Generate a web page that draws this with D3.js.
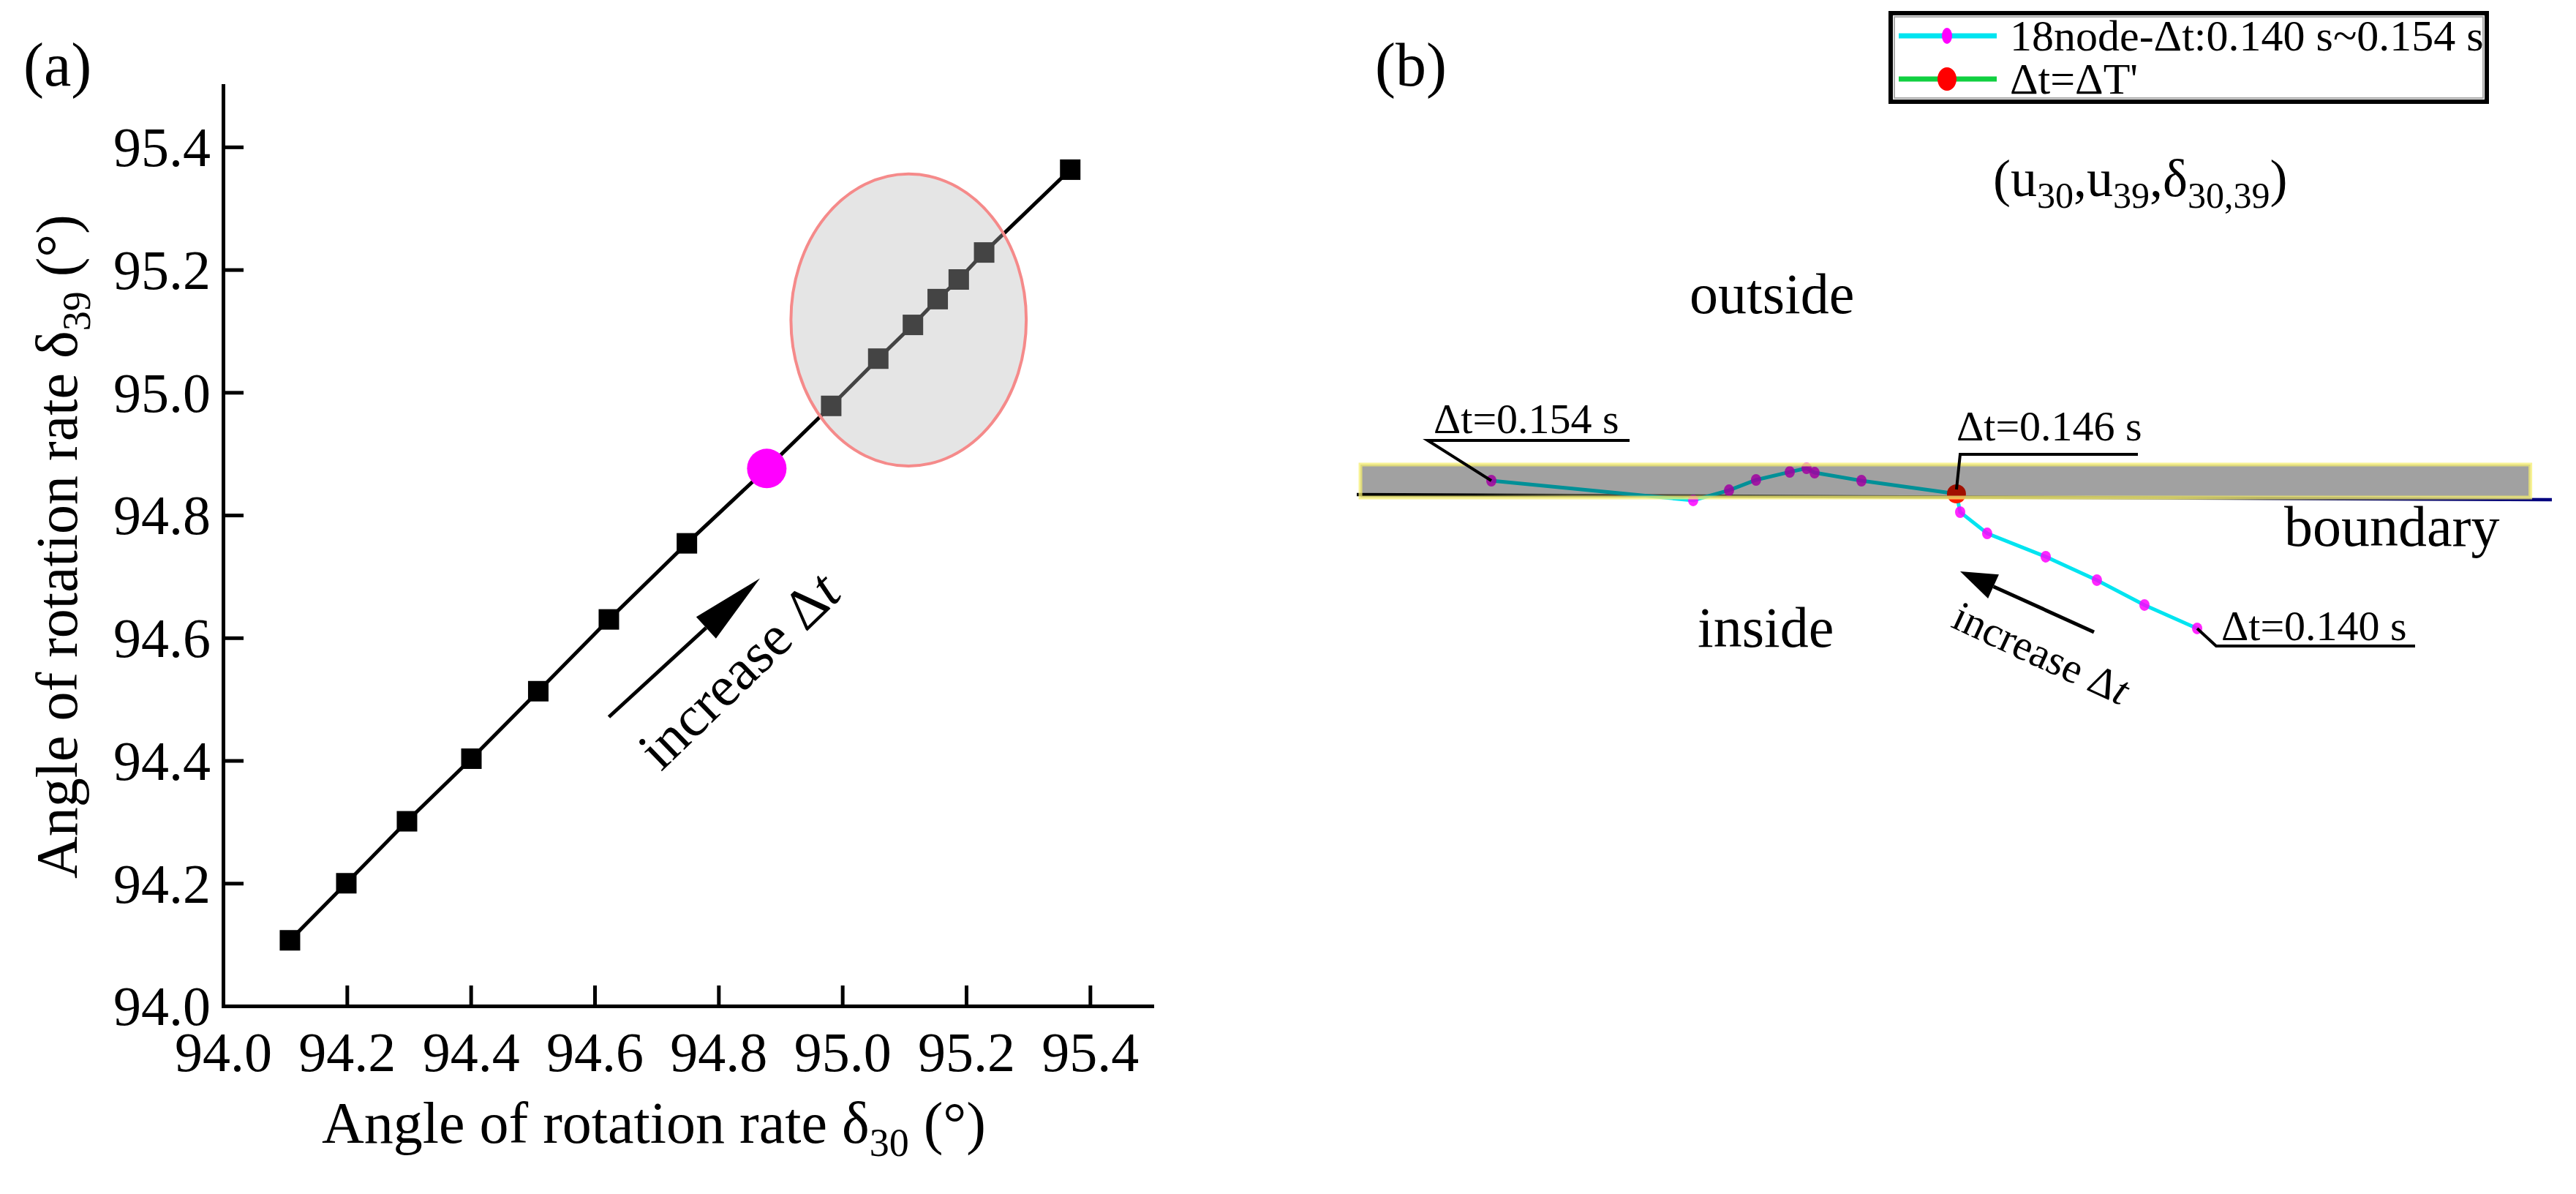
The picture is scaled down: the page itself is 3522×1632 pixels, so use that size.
<!DOCTYPE html>
<html><head><meta charset="utf-8">
<script src="https://cdn.jsdelivr.net/npm/d3@7"></script>
<style>
html,body{margin:0;padding:0;background:#fff;}
svg text{font-family:"Liberation Serif","Times New Roman",serif;fill:#000;}
</style></head><body>
<svg id="chart" width="3522" height="1632"></svg>
<script>
// ---------- Panel (a) data ----------
const delta30 = [94.108, 94.199, 94.297, 94.401, 94.509, 94.623, 94.749, 94.982, 95.058, 95.114, 95.154, 95.188, 95.229, 95.368];
const delta39 = [94.107, 94.200, 94.301, 94.403, 94.513, 94.630, 94.754, 94.978, 95.055, 95.110, 95.152, 95.184, 95.228, 95.363];
const criticalDelta30 = 94.878;
const criticalDelta39 = 94.876;
const axisTicks = [94.0, 94.2, 94.4, 94.6, 94.8, 95.0, 95.2, 95.4];
const axisTickLabels = ["94.0", "94.2", "94.4", "94.6", "94.8", "95.0", "95.2", "95.4"];
const clusterCenter = [95.107, 95.118];
const clusterRadius = [0.190, 0.238];

// ---------- Panel (b) data (projected plane, boundary = v 0) ----------
const dtValues = [0.140, 0.141, 0.142, 0.143, 0.144, 0.145, 0.146, 0.147, 0.148, 0.149, 0.150, 0.151, 0.152, 0.153, 0.154];
const nodeU = [70.32, 65.91, 61.93, 57.65, 52.75, 50.49, 50.18, 42.23, 38.31, 37.64, 36.23, 33.41, 31.15, 28.15, 11.26];
const nodeV = [-10.83, -8.87, -6.79, -4.83, -2.88, -1.10, 0.43, 1.53, 2.20, 2.57, 2.26, 1.59, 0.73, -0.12, 1.53];
const criticalDt = 0.146;
const bandU = [0.31, 98.2];
const bandV = [0.12, 2.88];
const boundaryU = [0, 100];
const boundaryV = [0.37, -0.06];
const legendLabels = ["18node-\u0394t:0.140 s~0.154 s", "\u0394t=\u0394T'"];

const svg = d3.select("#chart");
const FONT = '"Liberation Serif","Times New Roman",serif';

// ================= Panel (a) =================
const x = d3.scaleLinear().domain([94, 95.5]).range([305, 1575]);
const y = d3.scaleLinear().domain([94, 95.5]).range([1375, 117]);

const gx = svg.append("g").attr("transform", "translate(0,1375)")
  .call(d3.axisBottom(x).tickValues(axisTicks).tickFormat((d, i) => axisTickLabels[i])
    .tickSizeInner(-28).tickSizeOuter(0).tickPadding(35));
const gy = svg.append("g").attr("transform", "translate(305,0)")
  .call(d3.axisLeft(y).tickValues(axisTicks).tickFormat((d, i) => axisTickLabels[i])
    .tickSizeInner(-28).tickSizeOuter(0).tickPadding(17));
[gx, gy].forEach(g => {
  g.attr("font-family", FONT).attr("font-size", 76);
  g.selectAll("path.domain").attr("stroke", "#000").attr("stroke-width", 5).attr("stroke-linecap", "square");
  g.selectAll(".tick line").attr("stroke", "#000").attr("stroke-width", 5);
  g.selectAll("text").attr("fill", "#000");
});
gy.selectAll("text").attr("dy", "0.34em");

// axis titles
const xt = svg.append("text").attr("x", 894).attr("y", 1562).attr("text-anchor", "middle").attr("font-size", 80);
xt.append("tspan").text("Angle of rotation rate \u03b4");
xt.append("tspan").attr("font-size", 54).attr("dy", 18).text("30");
xt.append("tspan").attr("dy", -18).text(" (\u00b0)");

const yt = svg.append("text").attr("transform", "translate(105,747) rotate(-90)").attr("text-anchor", "middle").attr("font-size", 80);
yt.append("tspan").text("Angle of rotation rate \u03b4");
yt.append("tspan").attr("font-size", 54).attr("dy", 18).text("39");
yt.append("tspan").attr("dy", -18).text(" (\u00b0)");

svg.append("text").attr("x", 32).attr("y", 117).attr("font-size", 84).text("(a)");

// line through all points (including the critical one)
const allPts = delta30.map((d, i) => [d, delta39[i]]).concat([[criticalDelta30, criticalDelta39]])
  .sort((a, b) => a[0] - b[0]);
svg.append("path").datum(allPts)
  .attr("d", d3.line().x(d => x(d[0])).y(d => y(d[1])))
  .attr("fill", "none").attr("stroke", "#000").attr("stroke-width", 5);

const sq = 28;
svg.append("g").selectAll("rect").data(delta30).join("rect")
  .attr("x", (d) => x(d) - sq / 2).attr("y", (d, i) => y(delta39[i]) - sq / 2)
  .attr("width", sq).attr("height", sq).attr("fill", "#000");

svg.append("circle").attr("cx", x(criticalDelta30)).attr("cy", y(criticalDelta39)).attr("r", 27).attr("fill", "#ff00ff");

// highlighted cluster ellipse
svg.append("ellipse")
  .attr("cx", x(clusterCenter[0])).attr("cy", y(clusterCenter[1]))
  .attr("rx", x(clusterCenter[0] + clusterRadius[0]) - x(clusterCenter[0]))
  .attr("ry", y(clusterCenter[1]) - y(clusterCenter[1] + clusterRadius[1]))
  .attr("fill", "rgb(184,184,184)").attr("fill-opacity", 0.37)
  .attr("stroke", "#f58a8a").attr("stroke-width", 4);

function arrow(x1, y1, x2, y2, headLen, headHalf, width) {
  const ang = Math.atan2(y2 - y1, x2 - x1);
  const bx = x2 - headLen * Math.cos(ang), by = y2 - headLen * Math.sin(ang);
  svg.append("line").attr("x1", x1).attr("y1", y1).attr("x2", bx).attr("y2", by)
    .attr("stroke", "#000").attr("stroke-width", width);
  const px = -Math.sin(ang) * headHalf, py = Math.cos(ang) * headHalf;
  svg.append("polygon").attr("points", `${x2},${y2} ${bx + px},${by + py} ${bx - px},${by - py}`).attr("fill", "#000");
}
// "increase Δt" in panel (a)
arrow(x(94.623), y(94.471), x(94.867), y(94.697), 100, 20, 5);
const ta = svg.append("text").attr("transform", `translate(${x(94.832)},${y(94.548)}) rotate(-44)`)
  .attr("text-anchor", "middle").attr("dy", "0.35em").attr("font-size", 78);
ta.append("tspan").text("increase \u0394");
ta.append("tspan").attr("font-style", "italic").text("t");

// ================= Panel (b) =================
const xB = d3.scaleLinear().domain([0, 100]).range([1855, 3489]);
const yB = d3.scaleLinear().domain([0, 10]).range([682, 518.6]);

svg.append("text").attr("x", 1880).attr("y", 117).attr("font-size", 84).text("(b)");

// boundary line
const grad = svg.append("defs").append("linearGradient").attr("id", "bgrad")
  .attr("gradientUnits", "userSpaceOnUse")
  .attr("x1", xB(boundaryU[0])).attr("x2", xB(boundaryU[1])).attr("y1", 0).attr("y2", 0);
[[0, "#000"], [0.1, "#111"], [0.18, "#77775a"], [0.68, "#707060"], [0.76, "#202050"], [1, "#000080"]]
  .forEach(s => grad.append("stop").attr("offset", s[0]).attr("stop-color", s[1]));
svg.append("line").attr("x1", xB(boundaryU[0])).attr("y1", yB(boundaryV[0]))
  .attr("x2", xB(boundaryU[1])).attr("y2", yB(boundaryV[1]))
  .attr("stroke", "url(#bgrad)").attr("stroke-width", 4.5);

// trajectory
const nodes = dtValues.map((d, i) => ({dt: d, u: nodeU[i], v: nodeV[i]}));
svg.append("path").datum(nodes)
  .attr("d", d3.line().x(d => xB(d.u)).y(d => yB(d.v)))
  .attr("fill", "none").attr("stroke", "#00e4f0").attr("stroke-width", 5);
svg.append("g").selectAll("ellipse").data(nodes.filter(d => d.dt !== criticalDt)).join("ellipse")
  .attr("cx", d => xB(d.u)).attr("cy", d => yB(d.v)).attr("rx", 7).attr("ry", 8)
  .attr("fill", "#ff00ff").attr("fill-opacity", 0.85);
const crit = nodes.find(d => d.dt === criticalDt);
svg.append("circle").attr("cx", xB(crit.u)).attr("cy", yB(crit.v)).attr("r", 13).attr("fill", "#ff1a00");

// semi-transparent gray band (boundary zone)
svg.append("rect").attr("x", xB(bandU[0])).attr("y", yB(bandV[1]))
  .attr("width", xB(bandU[1]) - xB(bandU[0])).attr("height", yB(bandV[0]) - yB(bandV[1]))
  .attr("fill", "#000").attr("fill-opacity", 0.37)
  .attr("stroke", "#f4ee70").attr("stroke-opacity", 0.75).attr("stroke-width", 5);

// point labels with leaders
function dtLabel(txt, tx, ty) {
  svg.append("text").attr("x", tx).attr("y", ty).attr("font-size", 58).text(txt);
}
const p154 = nodes[nodes.length - 1], p140 = nodes[0];
dtLabel("\u0394t=0.154 s", 1960, 592);
svg.append("path").attr("d", `M${xB(p154.u)},${yB(p154.v)} L1952,602 H2228`)
  .attr("fill", "none").attr("stroke", "#000").attr("stroke-width", 4);
dtLabel("\u0394t=0.146 s", 2675, 602);
svg.append("path").attr("d", `M${xB(crit.u)},${yB(crit.v) - 6} L2680,621 H2923`)
  .attr("fill", "none").attr("stroke", "#000").attr("stroke-width", 4);
dtLabel("\u0394t=0.140 s", 3037, 875);
svg.append("path").attr("d", `M${xB(p140.u)},${yB(p140.v)} L3030,883 H3302`)
  .attr("fill", "none").attr("stroke", "#000").attr("stroke-width", 4);

// region labels
svg.append("text").attr("x", 2310).attr("y", 428).attr("font-size", 78).text("outside");
svg.append("text").attr("x", 2321).attr("y", 884).attr("font-size", 78).text("inside");
svg.append("text").attr("x", 3123).attr("y", 746).attr("font-size", 78).text("boundary");

// increase Δt arrow in panel (b)
arrow(2863, 864, 2680, 781, 50, 18, 5);
const tb = svg.append("text").attr("transform", "translate(2791,892) rotate(24.8)")
  .attr("text-anchor", "middle").attr("dy", "0.35em").attr("font-size", 58);
tb.append("tspan").text("increase \u0394");
tb.append("tspan").attr("font-style", "italic").text("t");

// coordinate label
const ct = svg.append("text").attr("x", 2725).attr("y", 268).attr("font-size", 72);
ct.append("tspan").text("(u");
ct.append("tspan").attr("font-size", 50).attr("dy", 16).text("30");
ct.append("tspan").attr("dy", -16).text(",u");
ct.append("tspan").attr("font-size", 50).attr("dy", 16).text("39");
ct.append("tspan").attr("dy", -16).text(",\u03b4");
ct.append("tspan").attr("font-size", 50).attr("dy", 16).text("30,39");
ct.append("tspan").attr("dy", -16).text(")");

// legend
const lg = svg.append("g");
lg.append("rect").attr("x", 2585).attr("y", 18).attr("width", 815).attr("height", 121)
  .attr("fill", "#fff").attr("stroke", "#000").attr("stroke-width", 6);
lg.append("rect").attr("x", 2590).attr("y", 23).attr("width", 805).attr("height", 111)
  .attr("fill", "none").attr("stroke", "#aaa").attr("stroke-width", 2);
const legendRows = [
  {label: legendLabels[0], line: "#00e4f0", dot: "#ff00ff", rx: 7, ry: 11, cy: 49},
  {label: legendLabels[1], line: "#10d040", dot: "#ff0000", rx: 13, ry: 16, cy: 108}
];
legendRows.forEach(r => {
  lg.append("line").attr("x1", 2596).attr("x2", 2730).attr("y1", r.cy).attr("y2", r.cy)
    .attr("stroke", r.line).attr("stroke-width", 7);
  lg.append("ellipse").attr("cx", 2662).attr("cy", r.cy).attr("rx", r.rx).attr("ry", r.ry).attr("fill", r.dot);
  lg.append("text").attr("x", 2748).attr("y", r.cy + 20).attr("font-size", 60).text(r.label);
});
</script>
</body></html>
